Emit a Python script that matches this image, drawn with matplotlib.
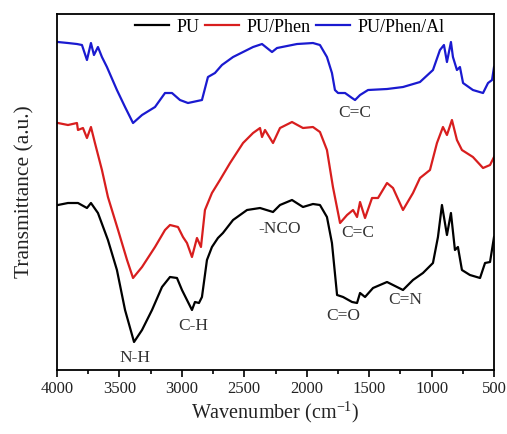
import numpy as np
import matplotlib
matplotlib.use("Agg")
from matplotlib import pyplot as plt
from matplotlib.ticker import MultipleLocator

plt.rcParams['font.family'] = ['Liberation Serif', 'DejaVu Serif']
plt.rcParams['mathtext.fontset'] = 'stix'

# wavenumber (cm-1) and transmittance (a.u.)
wn_pu = [3992, 3912, 3832, 3760, 3728, 3672, 3592, 3520, 3455, 3383, 3319, 3239, 3159,
         3095, 3039, 2999, 2959, 2919, 2895, 2863, 2839, 2799, 2759, 2711, 2671,
         2590, 2478, 2374, 2270, 2214, 2118, 2030, 1950, 1894, 1838, 1798, 1757, 1709,
         1637, 1597, 1573, 1533, 1469, 1357, 1309, 1229, 1149, 1069, 989, 949, 917,
         877, 845, 813, 789, 757, 693, 612, 572, 532, 500]
t_pu = [165, 167, 167, 162, 167, 157, 130, 100, 60, 28, 40, 60, 83,
        93, 92, 80, 70, 60, 68, 67, 73, 110, 123, 132, 137,
        150, 160, 162, 158, 165, 170, 163, 166, 165, 153, 127, 75, 73,
        68, 67, 77, 73, 82, 88, 85, 80, 90, 97, 107, 133, 165,
        135, 157, 120, 123, 100, 95, 92, 107, 108, 133]

wn_phen = [3992, 3912, 3840, 3832, 3792, 3760, 3728, 3696, 3640, 3592, 3511, 3439, 3391,
           3319, 3215, 3135, 3095, 3031, 2991, 2959, 2919, 2879, 2847, 2815, 2759, 2695,
           2614, 2510, 2430, 2374, 2358, 2334, 2270, 2214, 2118, 2030, 1950, 1894, 1838,
           1790, 1733, 1677, 1629, 1597, 1573, 1533, 1477, 1429, 1357, 1309, 1229, 1149,
           1093, 1013, 957, 909, 877, 837, 797, 757, 669, 588, 532, 500]
t_phen = [247, 245, 247, 240, 242, 232, 243, 227, 200, 173, 140, 110, 92,
          103, 123, 140, 145, 143, 133, 127, 113, 132, 123, 160, 177, 190,
          207, 227, 237, 242, 233, 240, 227, 242, 248, 242, 243, 238, 220,
          183, 147, 155, 160, 153, 168, 152, 172, 172, 187, 182, 160, 177,
          192, 200, 227, 243, 235, 250, 230, 220, 213, 202, 205, 213]

wn_al = [3992, 3912, 3840, 3800, 3760, 3728, 3704, 3672, 3640, 3600, 3520, 3455, 3391,
         3319, 3215, 3135, 3079, 3015, 2951, 2839, 2791, 2735, 2679, 2590, 2430, 2358,
         2318, 2278, 2238, 2078, 1950, 1894, 1838, 1798, 1774, 1749, 1693, 1637, 1613,
         1573, 1509, 1357, 1229, 1093, 989, 933, 901, 877, 845, 829, 797, 773, 748,
         669, 588, 548, 516, 500]
t_al = [328, 327, 326, 325, 310, 327, 315, 323, 313, 303, 280, 263, 247,
        255, 263, 277, 277, 270, 267, 270, 293, 297, 305, 313, 323, 326,
        322, 318, 322, 326, 327, 325, 313, 297, 280, 277, 277, 272, 270,
        275, 280, 281, 283, 288, 300, 320, 325, 308, 328, 313, 300, 303, 287,
        280, 277, 287, 290, 303]

bands = ["N-H", "C-H", "-NCO", "C=O", "C=N", "C=C", "C=C"]
band_wn = [3375, 2911, 2214, 1709, 1213, 1589, 1613]
band_t = [12, 44, 141, 54, 70, 137, 257]

fig = plt.figure(figsize=(5.07, 4.34), dpi=100)
ax = fig.add_axes([0.1124, 0.1475, 0.862, 0.8202])

ax.plot(wn_pu, t_pu, color='black', lw=1.6, label='PU')
ax.plot(wn_phen, t_phen, color='#d81e1e', lw=1.6, label='PU/Phen')
ax.plot(wn_al, t_al, color='#1a1ad0', lw=1.6, label='PU/Phen/Al')

for name, x, y in zip(bands, band_wn, band_t):
    ax.text(x, y, name, ha='center', va='center', fontsize=12.5, color='#333333')

ax.set_xlim(4000, 500)
ax.set_ylim(0, 356)
ax.xaxis.set_major_locator(MultipleLocator(500))
ax.xaxis.set_minor_locator(MultipleLocator(250))
ax.tick_params(axis='x', which='major', direction='out', length=5, width=1.2,
               labelsize=12, pad=3, labelcolor='#222222')
ax.tick_params(axis='x', which='minor', direction='out', length=3, width=1.2)
ax.set_yticks([])
for s in ax.spines.values():
    s.set_linewidth(1.3)

ax.set_xlabel('Wavenumber (cm$^{\\mathregular{-1}}$)', fontsize=14.5, labelpad=2,
              color='#222222')
ax.set_ylabel('Transmittance (a.u.)', fontsize=15.5, labelpad=16, color='#222222')
ax.legend(loc='center', ncol=3, frameon=False, fontsize=13, handlelength=1.9,
          handletextpad=0.4, columnspacing=0.3, borderaxespad=0.0,
          bbox_to_anchor=(0.533, 0.963))

fig.savefig('out.png', dpi=100)
